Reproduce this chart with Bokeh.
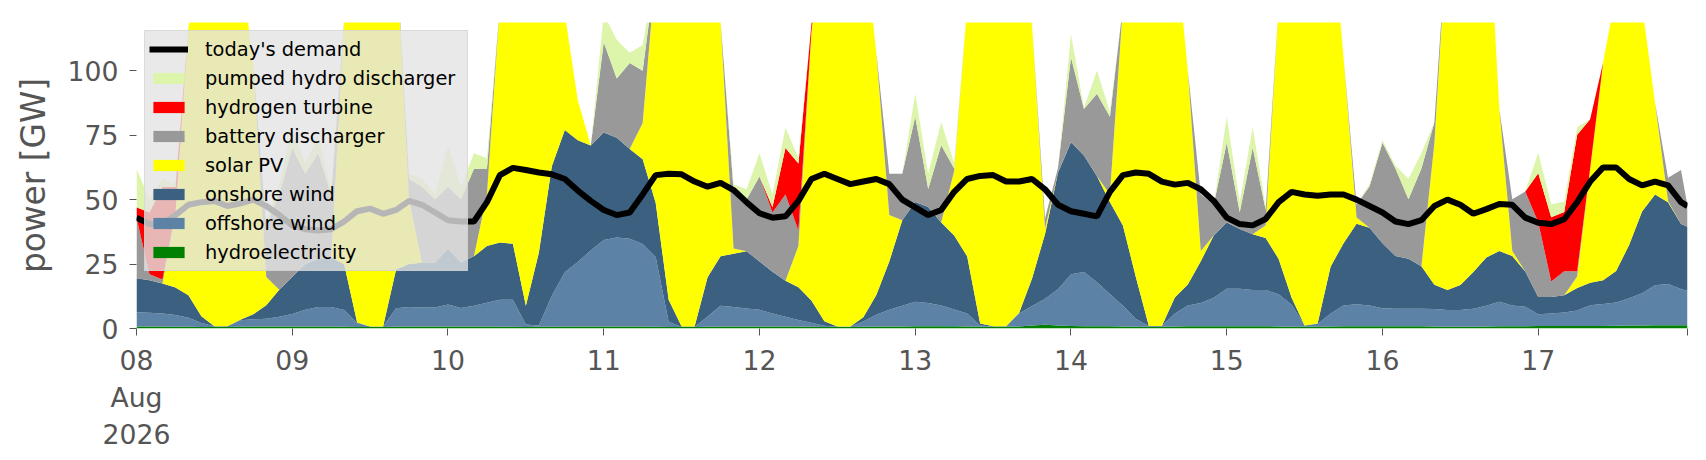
from bokeh.plotting import figure
from bokeh.models import ColumnDataSource, Legend, LegendItem, FixedTicker, Range1d
from bokeh.embed import file_html
from bokeh.resources import INLINE

# hours since 08 Aug 2026 00:00, read every two hours
hours = list(range(0, 240, 2)) + [239]

# one row per day (08 .. 17), GW
demand = [
    43, 40.5, 40.5, 44, 48, 49, 49.5, 47.5, 48.5, 50, 47.5, 44,
    40, 38.5, 38, 38.5, 41.5, 45.5, 46.5, 44.5, 46, 49.5, 48, 45,
    42, 41.5, 41.5, 49, 59.5, 62.3, 61.5, 60.5, 59.8, 58, 53.5, 49.5,
    46, 44, 45, 52, 59.5, 60, 59.8, 57, 55, 56.5, 53.7, 49,
    44.7, 43, 43.5, 49.5, 58, 60, 58, 56, 57, 58, 56, 50,
    47, 44, 46, 53, 58, 59.2, 59.5, 57, 57, 58, 54, 48,
    45.5, 44.5, 43.5, 53, 59.5, 60.5, 60, 57, 55.8, 56.5, 54, 49.5,
    43, 40.5, 40, 42.5, 49, 53, 52, 51.5, 52, 52, 50, 47.5,
    45, 41.5, 40.5, 42, 47.5, 50, 48, 44.5, 46.3, 48.3, 48, 43,
    41, 40.5, 42.4, 49, 57, 62.5, 62.5, 58, 55.5, 57, 55.5, 49,
    47.5,
]
hydro = [
    0.8, 0.8, 0.8, 0.7, 0.7, 0.6, 0.6, 0.6, 0.7, 0.8, 0.8, 0.8,
    0.8, 0.8, 0.8, 0.8, 0.7, 0.6, 0.6, 0.6, 0.7, 0.8, 0.8, 0.8,
    0.8, 0.8, 0.8, 0.8, 0.7, 0.7, 0.6, 0.7, 0.7, 0.8, 0.8, 0.8,
    0.8, 0.8, 0.8, 0.8, 0.7, 0.6, 0.6, 0.6, 0.7, 0.8, 0.8, 0.8,
    0.8, 0.8, 0.8, 0.8, 0.7, 0.6, 0.6, 0.6, 0.7, 0.8, 0.8, 0.8,
    0.9, 0.9, 0.9, 0.9, 0.8, 0.7, 0.7, 0.7, 0.8, 1.2, 1.5, 1.2,
    1.0, 0.9, 0.9, 0.9, 0.8, 0.7, 0.7, 0.7, 0.8, 0.9, 0.9, 0.9,
    0.9, 0.9, 0.9, 0.9, 0.8, 0.7, 0.7, 0.7, 0.8, 0.9, 0.9, 0.9,
    0.9, 0.9, 0.9, 0.9, 0.8, 0.7, 0.7, 0.7, 0.8, 0.9, 0.9, 0.9,
    1.0, 1.0, 1.0, 1.0, 1.0, 1.0, 1.1, 1.2, 1.2, 1.3, 1.3, 1.3,
    1.3,
]
offshore = [
    5.5, 5.3, 5.0, 4.5, 3.5, 1.5, 0.3, 0.3, 2.5, 2.8, 3.0, 3.8,
    4.8, 6.5, 7.5, 7.5, 6.5, 1.5, 0.2, 0.2, 7.2, 7.5, 7.3, 7.3,
    8.5, 7.2, 8.0, 9.2, 10.5, 10.5, 1.0, 0.5, 12.0, 21.0, 25.0, 29.5,
    33.5, 34.5, 34.0, 32.0, 27.0, 2.0, 0.0, 0.0, 4.0, 8.0, 7.5, 7.0,
    6.5, 5.0, 3.8, 2.5, 1.5, 0.5, 0.1, 0.1, 2.0, 4.5, 6.5, 8.0,
    9.5, 9.0, 8.0, 6.5, 5.0, 0.5, 0.1, 0.1, 5.0, 7.5, 10.0, 14.0,
    20.0, 21.0, 17.0, 12.5, 8.0, 3.0, 0.3, 0.3, 5.0, 8.0, 9.0, 11.0,
    14.5, 14.5, 14.0, 14.0, 12.5, 8.5, 0.5, 1.0, 5.0, 8.0, 8.5, 8.0,
    7.0, 6.8, 6.8, 6.8, 6.8, 6.5, 6.5, 7.0, 8.0, 9.5, 8.0, 7.5,
    4.5, 4.8, 5.2, 6.0, 8.0, 8.5, 9.0, 10.5, 12.5, 15.5, 16.0, 14.0,
    13.2,
]
onshore = [
    13.2, 12.6, 11.7, 10.7, 8.7, 2.7, 0.0, 0.0, 0.2, 1.9, 5.2, 10.4,
    14.4, 17.7, 18.7, 19.2, 17.7, 0.2, 0.0, 0.0, 15.0, 16.7, 17.4, 17.4,
    21.7, 17.6, 19.2, 22.0, 22.2, 21.7, 7.2, 28.2, 50.2, 55.2, 47.2, 40.7,
    41.7, 38.7, 34.8, 32.9, 21.1, 8.6, 0.2, 0.2, 15.2, 19.2, 20.7, 22.2,
    18.7, 16.2, 13.9, 12.7, 8.7, 1.7, 0.1, 0.1, 1.7, 7.7, 18.7, 33.2,
    38.7, 37.2, 32.2, 28.7, 22.2, 0.7, 0.1, 0.1, 0.2, 10.7, 25.2, 45.2,
    51.2, 45.2, 41.2, 35.7, 31.2, 16.2, 0.0, 0.0, 6.2, 8.2, 16.2, 24.2,
    25.7, 23.2, 21.7, 20.2, 13.7, 2.7, 0.0, 0.2, 18.2, 24.2, 31.2, 30.2,
    25.2, 20.4, 19.4, 16.4, 9.4, 7.7, 9.7, 14.2, 18.7, 19.7, 19.2, 13.7,
    6.7, 6.4, 6.7, 8.7, 8.7, 9.2, 12.2, 20.7, 31.7, 35.2, 31.7, 25.2,
    25.0,
]
solar = [
    0, 0, 0, 29, 104, 140, 165, 165, 140, 96.5, 11, 0,
    0, 0, 0, 0, 95, 150, 165, 160, 125, 25, 0, 0,
    0, 0, 0, 20, 92, 140, 165, 140, 100, 45, 15.5, 0,
    0, 0, 0, 14, 90, 150, 165, 165, 140, 91, 2, 0,
    0, 0, 0, 16, 104, 160, 170, 170, 150, 94, 18, 0,
    0, 0, 0, 25, 97, 150, 165, 165, 150, 98, 2, 0,
    0, 0, 0, 3, 85, 130, 160, 160, 140, 83, 4, 0,
    0, 0, 0, 5, 98, 150, 160, 160, 140, 72, 2.5, 0,
    0, 0, 0, 0, 55, 140, 160, 160, 150, 55, 2, 0,
    0, 0, 0, 4.5, 44.5, 84.5, 108, 120, 80, 35.5, 0.5, 0,
    0,
]
battery = [
    23.5, 2.3, 1.5, 0, 0, 0, 0, 0, 0, 0, 20, 37,
    50, 35, 41, 24.5, 0, 0, 0, 0, 0, 8, 29.5, 24.5,
    24, 24.4, 34, 10, 0, 0, 0, 0, 0, 0, 0, 0,
    35, 23, 33.4, 20.3, 0, 0, 0, 0, 0, 0, 23, 20,
    33, 23, 33.5, 6, 0, 0, 0, 0, 0, 0, 16, 18,
    33, 7, 30, 1, 0, 0, 0, 0, 0, 0, 4, 2,
    33, 18, 32, 30, 0, 0, 0, 0, 0, 0, 22, 12,
    31, 6.5, 33.5, 6, 0, 0, 0, 0, 0, 0, 5, 16,
    39, 34, 23, 38, 8, 0, 0, 0, 0, 0, 20, 31,
    29, 6, 9.3, 2, 0, 0, 0, 0, 0, 0, 9, 21,
    8,
]
hydrogen = [
    4, 24, 36, 10, 0, 0, 0, 0, 0, 0, 0, 0,
    0, 0, 0, 0, 0, 0, 0, 0, 0, 0, 0, 0,
    0, 0, 0, 0, 0, 0, 0, 0, 0, 0, 0, 0,
    0, 0, 0, 0, 0, 0, 0, 0, 0, 0, 0, 0,
    0, 2, 18, 26, 3, 0, 0, 0, 0, 0, 0, 0,
    0, 0, 0, 0, 0, 0, 0, 0, 0, 0, 0, 0,
    0, 0, 0, 0, 0, 0, 0, 0, 0, 0, 0, 0,
    0, 0, 0, 0, 0, 0, 0, 0, 0, 0, 0, 0,
    0, 0, 0, 0, 0, 0, 0, 0, 0, 0, 0, 0,
    19, 25, 23, 53, 19, 0, 0, 0, 0, 0, 0, 0,
    0,
]
pumped = [
    15, 5, 3, 1, 0, 0, 0, 0, 0, 0, 2, 4,
    8, 4, 7, 2, 0, 0, 0, 0, 0, 2, 3, 2,
    16, 5, 6, 4, 0, 0, 0, 0, 0, 0, 0, 0,
    11, 15, 4, 10, 0, 0, 0, 0, 0, 0, 2, 4,
    9, 5, 8, 2, 0, 0, 0, 0, 0, 0, 0, 0,
    9, 6, 9, 2, 0, 0, 0, 0, 0, 0, 0, 0,
    9, 0.5, 9, 2, 0, 0, 0, 0, 0, 0, 0, 0,
    10, 4, 8, 1, 0, 0, 0, 0, 0, 0, 0, 1,
    1, 1, 8, 6, 0, 0, 0, 0, 0, 0, 0, 0,
    8, 5, 4, 3, 0, 0, 0, 0, 0, 0, 0, 0,
    0,
]

day_ticks = [0, 24, 48, 72, 96, 120, 144, 168, 192, 216, 239]
day_labels = ["08\nAug\n2026", "09", "10", "11", "12", "13", "14", "15", "16", "17", ""]

# bottom to top of the stack, with the legend names
stack = [
    ("hydro", "hydroelectricity", "#008000"),
    ("offshore", "offshore wind", "#5c83a5"),
    ("onshore", "onshore wind", "#3b6080"),
    ("solar", "solar PV", "#ffff00"),
    ("battery", "battery discharger", "#999999"),
    ("hydrogen", "hydrogen turbine", "#ff0000"),
    ("pumped", "pumped hydro discharger", "#dcf5aa"),
]

source = ColumnDataSource(dict(
    hour=hours, demand=demand, hydro=hydro, offshore=offshore, onshore=onshore,
    solar=solar, battery=battery, hydrogen=hydrogen, pumped=pumped,
))

grey = "#555555"
font = "DejaVu Sans"

p = figure(
    frame_width=1551, frame_height=306,
    x_range=Range1d(0, 239), y_range=Range1d(0, 118.7),
    output_backend="svg", toolbar_location=None,
    min_border_left=136, min_border_top=22, min_border_right=10,
)
p.outline_line_color = None
p.xgrid.visible = False
p.ygrid.visible = False

areas = p.varea_stack(
    stackers=[s[0] for s in stack], x="hour",
    color=[s[2] for s in stack], source=source,
)
demand_line = p.line("hour", "demand", source=source, line_color="black", line_width=6)

# axes
for ax in (p.xaxis[0], p.yaxis[0]):
    ax.axis_line_color = None
    ax.major_tick_in = 0
    ax.major_tick_out = 7
    ax.major_tick_line_color = grey
    ax.minor_tick_line_color = None
    ax.major_label_text_font = font
    ax.major_label_text_font_size = "26.7px"
    ax.major_label_text_color = grey

p.yaxis.ticker = FixedTicker(ticks=[0, 25, 50, 75, 100])
p.yaxis.major_label_standoff = 11
p.yaxis.axis_label = "power [GW]"
p.yaxis.axis_label_text_font = font
p.yaxis.axis_label_text_font_size = "32.8px"
p.yaxis.axis_label_text_font_style = "normal"
p.yaxis.axis_label_text_color = grey
p.yaxis.axis_label_standoff = 12

p.xaxis.ticker = FixedTicker(ticks=day_ticks)
p.xaxis.major_label_overrides = dict(zip(day_ticks, day_labels))
p.xaxis.major_label_standoff = 9

# legend, top of stack first
items = [LegendItem(label="today's demand", renderers=[demand_line])]
for r, s in reversed(list(zip(areas, stack))):
    items.append(LegendItem(label=s[1], renderers=[r]))

legend = Legend(
    items=items, location="top_left", margin=8,
    background_fill_color="#e3e3e3", background_fill_alpha=0.8,
    border_line_color="#cccccc", border_line_width=1,
    label_text_font=font, label_text_font_size="19.4px", label_text_color="black",
    glyph_width=39, glyph_height=14, label_height=28, label_standoff=17,
    label_width=258, spacing=1, padding=4,
)
p.add_layout(legend, "center")

open("out.html", "w").write(file_html(p, INLINE))
